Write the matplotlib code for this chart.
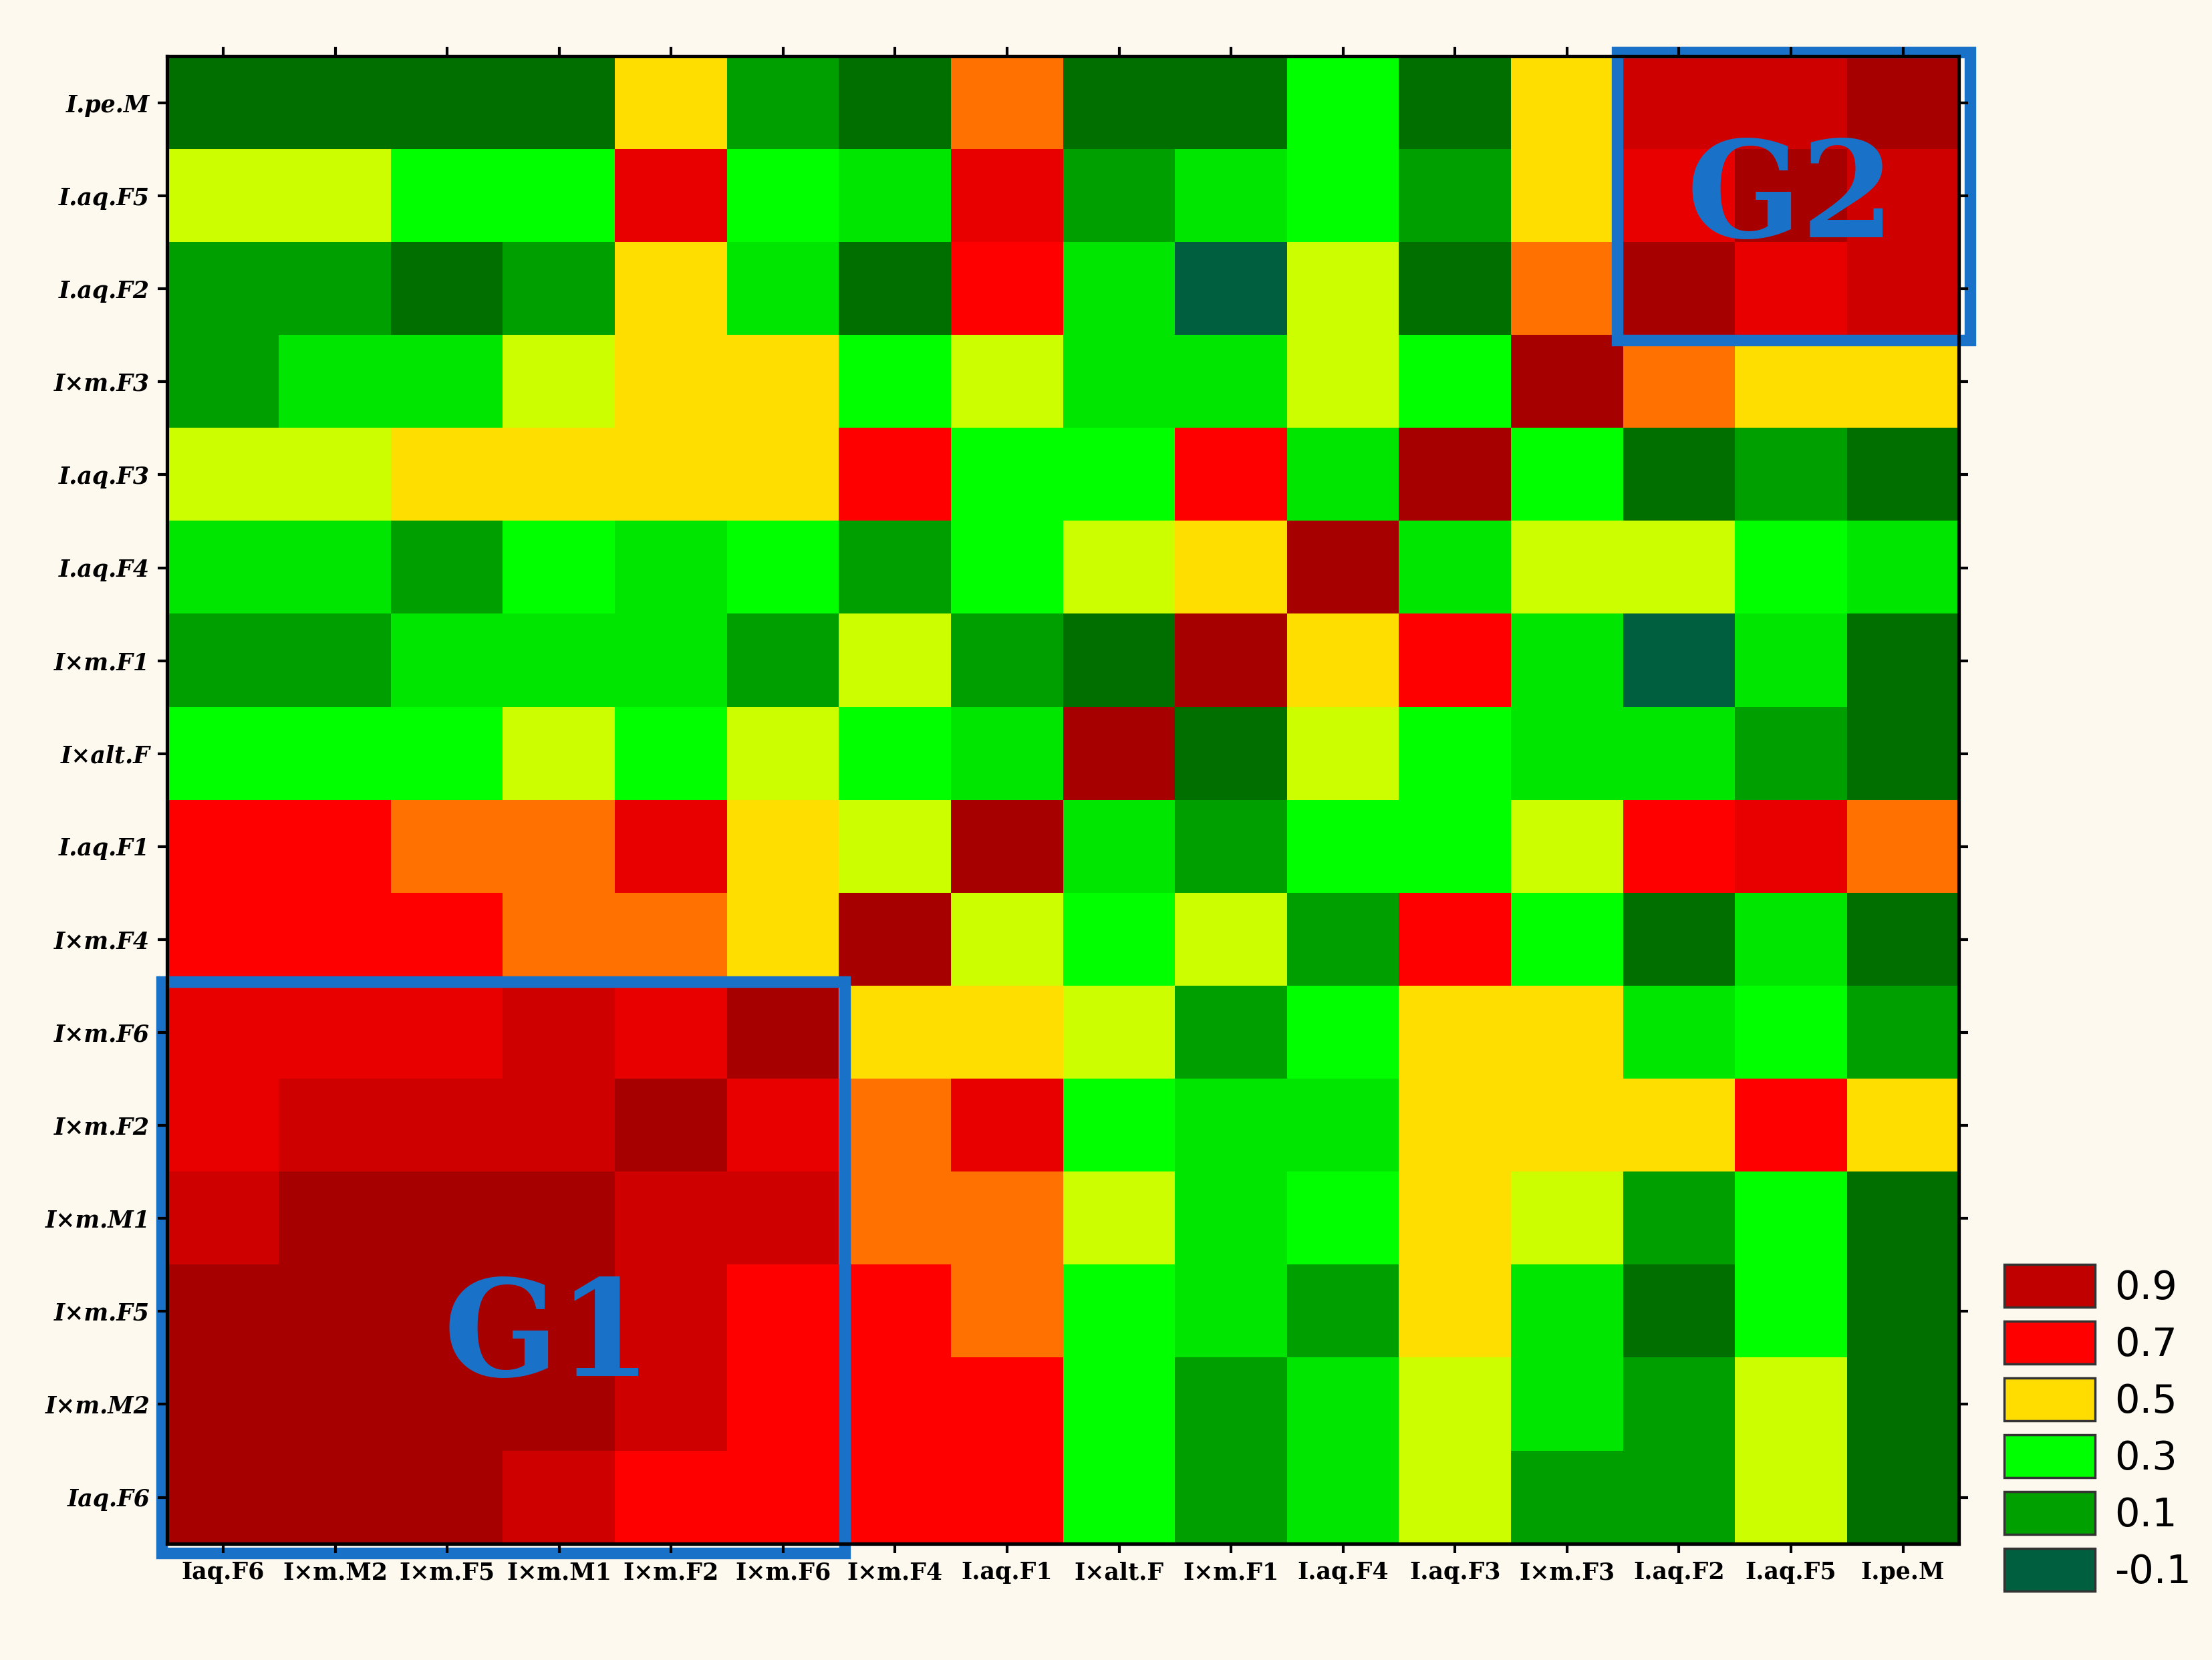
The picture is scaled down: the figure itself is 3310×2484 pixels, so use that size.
import numpy as np
import matplotlib
matplotlib.use("Agg")
import matplotlib.pyplot as plt
from matplotlib.colors import LinearSegmentedColormap
from matplotlib.patches import Rectangle, Patch

cols = ["Iaq.F6","I×m.M2","I×m.F5","I×m.M1","I×m.F2","I×m.F6","I×m.F4","I.aq.F1",
        "I×alt.F","I×m.F1","I.aq.F4","I.aq.F3","I×m.F3","I.aq.F2","I.aq.F5","I.pe.M"]
rows = ["I.pe.M","I.aq.F5","I.aq.F2","I×m.F3","I.aq.F3","I.aq.F4","I×m.F1","I×alt.F",
        "I.aq.F1","I×m.F4","I×m.F6","I×m.F2","I×m.M1","I×m.F5","I×m.M2","Iaq.F6"]

T, D, G, g, B, yl, Y, O, R, r, k, K = -0.1, 0.0, 0.1, 0.25, 0.3, 0.4, 0.5, 0.6, 0.7, 0.77, 0.85, 0.95
values = [
    [D, D, D, D, Y, G, D, O, D, D, B, D, Y, k, k, K],
    [yl, yl, B, B, r, B, g, r, G, g, B, G, Y, r, K, k],
    [G, G, D, G, Y, g, D, R, g, T, yl, D, O, K, r, k],
    [G, g, g, yl, Y, Y, B, yl, g, g, yl, B, K, O, Y, Y],
    [yl, yl, Y, Y, Y, Y, R, B, B, R, g, K, B, D, G, D],
    [g, g, G, B, g, B, G, B, yl, Y, K, g, yl, yl, B, g],
    [G, G, g, g, g, G, yl, G, D, K, Y, R, g, T, g, D],
    [B, B, B, yl, B, yl, B, g, K, D, yl, B, g, g, G, D],
    [R, R, O, O, r, Y, yl, K, g, G, B, B, yl, R, r, O],
    [R, R, R, O, O, Y, K, yl, B, yl, G, R, B, D, g, D],
    [r, r, r, k, r, K, Y, Y, yl, G, B, Y, Y, g, B, G],
    [r, k, k, k, K, r, O, r, B, g, g, Y, Y, Y, R, Y],
    [k, K, K, K, k, k, O, O, yl, g, B, Y, yl, G, B, D],
    [K, K, K, K, k, R, R, O, B, g, G, Y, g, D, B, D],
    [K, K, K, K, k, R, R, R, B, G, g, yl, g, G, yl, D],
    [K, K, K, k, R, R, R, R, B, G, g, yl, G, G, yl, D],
]
legend_levels = [0.9, 0.7, 0.5, 0.3, 0.1, -0.1]
legend_colors = ["#C00000", "#FF0000", "#FFDD00", "#00FF00", "#00A000", "#005F3F"]

nodes = [(-0.1, "#005F3F"), (0.0, "#007000"), (0.1, "#00A000"), (0.3, "#00FF00"),
         (0.4, "#CCFF00"), (0.5, "#FFDD00"), (0.6, "#FF7000"), (0.7, "#FF0000"),
         (0.9, "#C00000"), (1.0, "#900000")]
cmap = LinearSegmentedColormap.from_list(
    "c", [((v + 0.1) / 1.1, c) for v, c in nodes])

fig = plt.figure(figsize=(13.24, 9.936), dpi=250, facecolor="#FDF9EF")
ax = fig.add_axes([0.0756, 0.07, 0.81, 0.896])
ax.imshow(np.array(values), cmap=cmap, vmin=-0.1, vmax=1.0, aspect="auto",
          interpolation="nearest")
ax.set_xticks(range(16))
ax.set_xticklabels(cols, family="DejaVu Serif", fontweight="bold", fontsize=10)
ax.set_yticks(range(16))
ax.set_yticklabels(rows, family="DejaVu Serif", fontweight="bold", fontstyle="italic", fontsize=10)
ax.tick_params(top=True, right=True, direction="out", length=4, width=1.2)
for s in ax.spines.values():
    s.set_linewidth(1.5)

blue = "#1A72C8"
ax.add_patch(Rectangle((-0.55, 9.45), 6.1, 6.15, fill=False, ec=blue, lw=5, clip_on=False))
ax.add_patch(Rectangle((12.45, -0.55), 3.15, 3.1, fill=False, ec=blue, lw=5, clip_on=False))
ax.text(2.9, 13.3, "G1", color=blue, fontsize=58, fontweight="bold",
        family="DejaVu Serif", ha="center", va="center")
ax.text(14.0, 1.05, "G2", color=blue, fontsize=58, fontweight="bold",
        family="DejaVu Serif", ha="center", va="center")

handles = [Patch(facecolor=c, edgecolor="#333333", lw=1) for c in legend_colors]
fig.legend(handles, [f"{v:.1f}" for v in legend_levels], loc="lower left",
           bbox_to_anchor=(0.89, 0.02), frameon=False, fontsize=17,
           handlelength=2.3, handleheight=1.3, labelspacing=0.35, handletextpad=0.5)

fig.savefig("out.png", dpi=250, facecolor=fig.get_facecolor())
